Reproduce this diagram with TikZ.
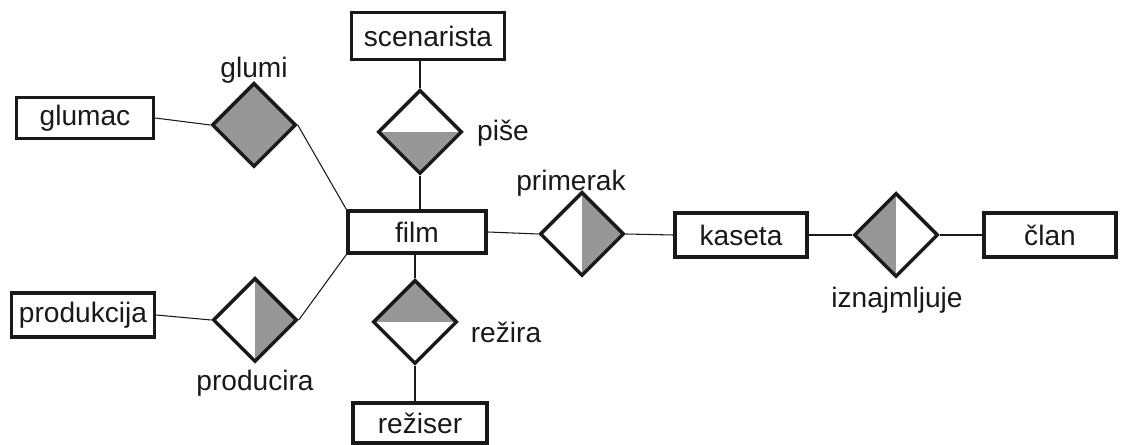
\documentclass[tikz,border=0pt]{standalone}
\usepackage{fontspec}
\setmainfont{Liberation Sans}
\usetikzlibrary{shapes.geometric}
\definecolor{ink}{RGB}{25,25,25}
\definecolor{relfill}{RGB}{150,150,150}
\begin{document}
\begin{tikzpicture}[x=0.02cm, y=-0.02cm,
  font=\fontsize{16}{18}\selectfont,
  every node/.style={text=ink},
  entity/.style={draw=ink, line width=2pt, rectangle, inner sep=0pt,
    minimum height=0.86cm},
  rel/.style={draw=ink, line width=2pt, diamond, inner sep=0pt,
    minimum width=1.68cm, minimum height=1.68cm},
  fullfill/.style={fill=relfill},
  filltop/.style={path picture={\fill[relfill] (path picture bounding box.north west) rectangle (path picture bounding box.east);}},
  fillbottom/.style={path picture={\fill[relfill] (path picture bounding box.west) rectangle (path picture bounding box.south east);}},
  fillleft/.style={path picture={\fill[relfill] (path picture bounding box.north west) rectangle (path picture bounding box.south);}},
  fillright/.style={path picture={\fill[relfill] (path picture bounding box.north) rectangle (path picture bounding box.south east);}},
  link/.style={draw=ink, line width=0.6pt},
  lbl/.style={inner sep=0pt}
]
\useasboundingbox (0,0) rectangle (1127,445);

% entities
\node[entity, minimum width=3.06cm, minimum height=0.94cm] (scenarista) at (428,36) {scenarista};
\node[entity, minimum width=2.74cm, minimum height=0.82cm] (glumac) at (85,118) {glumac};
\node[entity, minimum width=2.76cm, minimum height=0.84cm] (film) at (417,232) {film};
\node[entity, minimum width=2.86cm, minimum height=0.88cm] (produkcija) at (83,315) {produkcija};
\node[entity, minimum width=2.64cm, minimum height=0.88cm] (kaseta) at (741,235) {kaseta};
\node[entity, minimum width=2.64cm, minimum height=0.88cm] (clan) at (1050,235) {član};
\node[entity, minimum width=2.68cm, minimum height=0.80cm] (reziser) at (420,423) {režiser};

% relationships
\node[rel, fullfill] (glumi) at (254,125) {};
\node[rel, fillbottom] (pise) at (420,132) {};
\node[rel, fillright] (primerak) at (582,234) {};
\node[rel, fillleft] (iznajmljuje) at (896,235) {};
\node[rel, fillright] (producira) at (255,320) {};
\node[rel, filltop] (rezira) at (415,322) {};

% relationship names
\node[lbl] (tglumi) at (254,70) {glumi};
\node[lbl] (tpise) at (503,133) {piše};
\node[lbl] (tprimerak) at (571,183) {primerak};
\node[lbl] (tiznajmljuje) at (897,300) {iznajmljuje};
\node[lbl] (tproducira) at (255,383) {producira};
\node[lbl] (trezira) at (506,332) {režira};

% connectors
\draw[link] (glumac.east) -- (glumi.west);
\draw[link] (glumi.east) -- (film.north west);
\draw[link] (pise.north |- scenarista.south) -- (pise.north);
\draw[link] (pise.south) -- (pise.south |- film.north);
\draw[link] (film.east) -- (primerak.west);
\draw[link] (primerak.east) -- (kaseta.west);
\draw[link] (kaseta.east) -- (iznajmljuje.west);
\draw[link] (iznajmljuje.east) -- (clan.west);
\draw[link] (produkcija.east) -- (producira.west);
\draw[link] (producira.east) -- (film.south west);
\draw[link] (rezira.north |- film.south) -- (rezira.north);
\draw[link] (rezira.south) -- (rezira.south |- reziser.north);
\end{tikzpicture}
\end{document}
